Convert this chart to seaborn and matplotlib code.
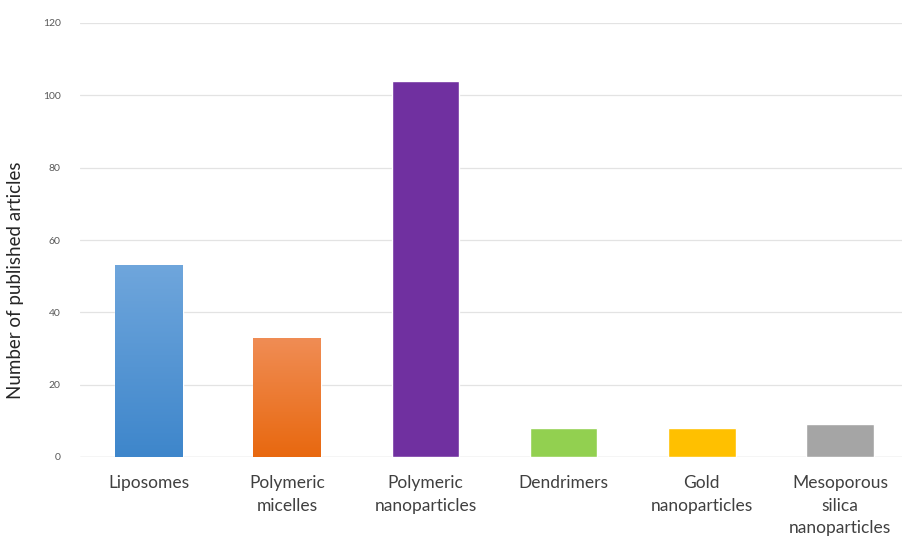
import numpy as np
import pandas as pd
import seaborn as sns
import matplotlib.pyplot as plt
from matplotlib.colors import LinearSegmentedColormap

# --- Data ---
categories = ["Liposomes", "Polymeric\nmicelles", "Polymeric\nnanoparticles",
              "Dendrimers", "Gold\nnanoparticles", "Mesoporous\nsilica\nnanoparticles"]
articles = [53, 33, 104, 8, 8, 9]
bar_colors = ["#5597d8", "#ef7a30", "#7030a0", "#92d050", "#ffc000", "#a5a5a5"]
# gradient fills (top, bottom) for the first two bars
gradients = {0: ("#6fa6dc", "#3e86cb"), 1: ("#f08d55", "#e8680f")}

df = pd.DataFrame({"category": categories, "articles": articles})

sns.set_style("white")
plt.rcParams['font.family'] = ['Lato', 'DejaVu Sans']

fig = plt.figure(figsize=(9.02, 5.39), dpi=100)
ax = fig.add_axes([80 / 902, 82 / 539, 822 / 902, 434 / 539])

sns.barplot(data=df, x="category", y="articles", hue="category",
            palette=bar_colors, legend=False, width=0.49, saturation=1,
            ax=ax, zorder=3)

# gradient overlay on the first two bars
for i, (top, bot) in gradients.items():
    p = ax.patches[i]
    x0, y0 = p.get_x(), p.get_y()
    w, h = p.get_width(), p.get_height()
    cmap = LinearSegmentedColormap.from_list("g", [bot, top])
    grad = np.linspace(0, 1, 256).reshape(-1, 1)
    im = ax.imshow(grad, cmap=cmap, aspect="auto", origin="lower",
                   extent=[x0, x0 + w, y0, y0 + h], zorder=4)
    im.set_clip_path(p)

ax.set_xlim(-0.5, 5.5 - 7 / 138)
ax.set_ylim(0, 120)
ax.set_yticks(range(0, 121, 20))
ax.yaxis.grid(True, color="#e3e3e3", linewidth=0.9, zorder=0)
ax.axhline(0, color="#d0d0d0", linewidth=0.9, zorder=2)
for s in ax.spines.values():
    s.set_visible(False)
ax.tick_params(axis="both", length=0)
ax.tick_params(axis="y", labelsize=7.5, labelcolor="#595959", pad=14)
ax.tick_params(axis="x", labelsize=12.5, labelcolor="#404040", pad=13)
for lbl in ax.get_xticklabels():
    lbl.set_linespacing(1.5)

ax.set_xlabel("")
ax.set_ylabel("Number of published articles", fontsize=13.5, color="#262626")
ax.yaxis.set_label_coords(-56 / 822, 0.408)

plt.savefig("out.png", dpi=100)
plt.close()
